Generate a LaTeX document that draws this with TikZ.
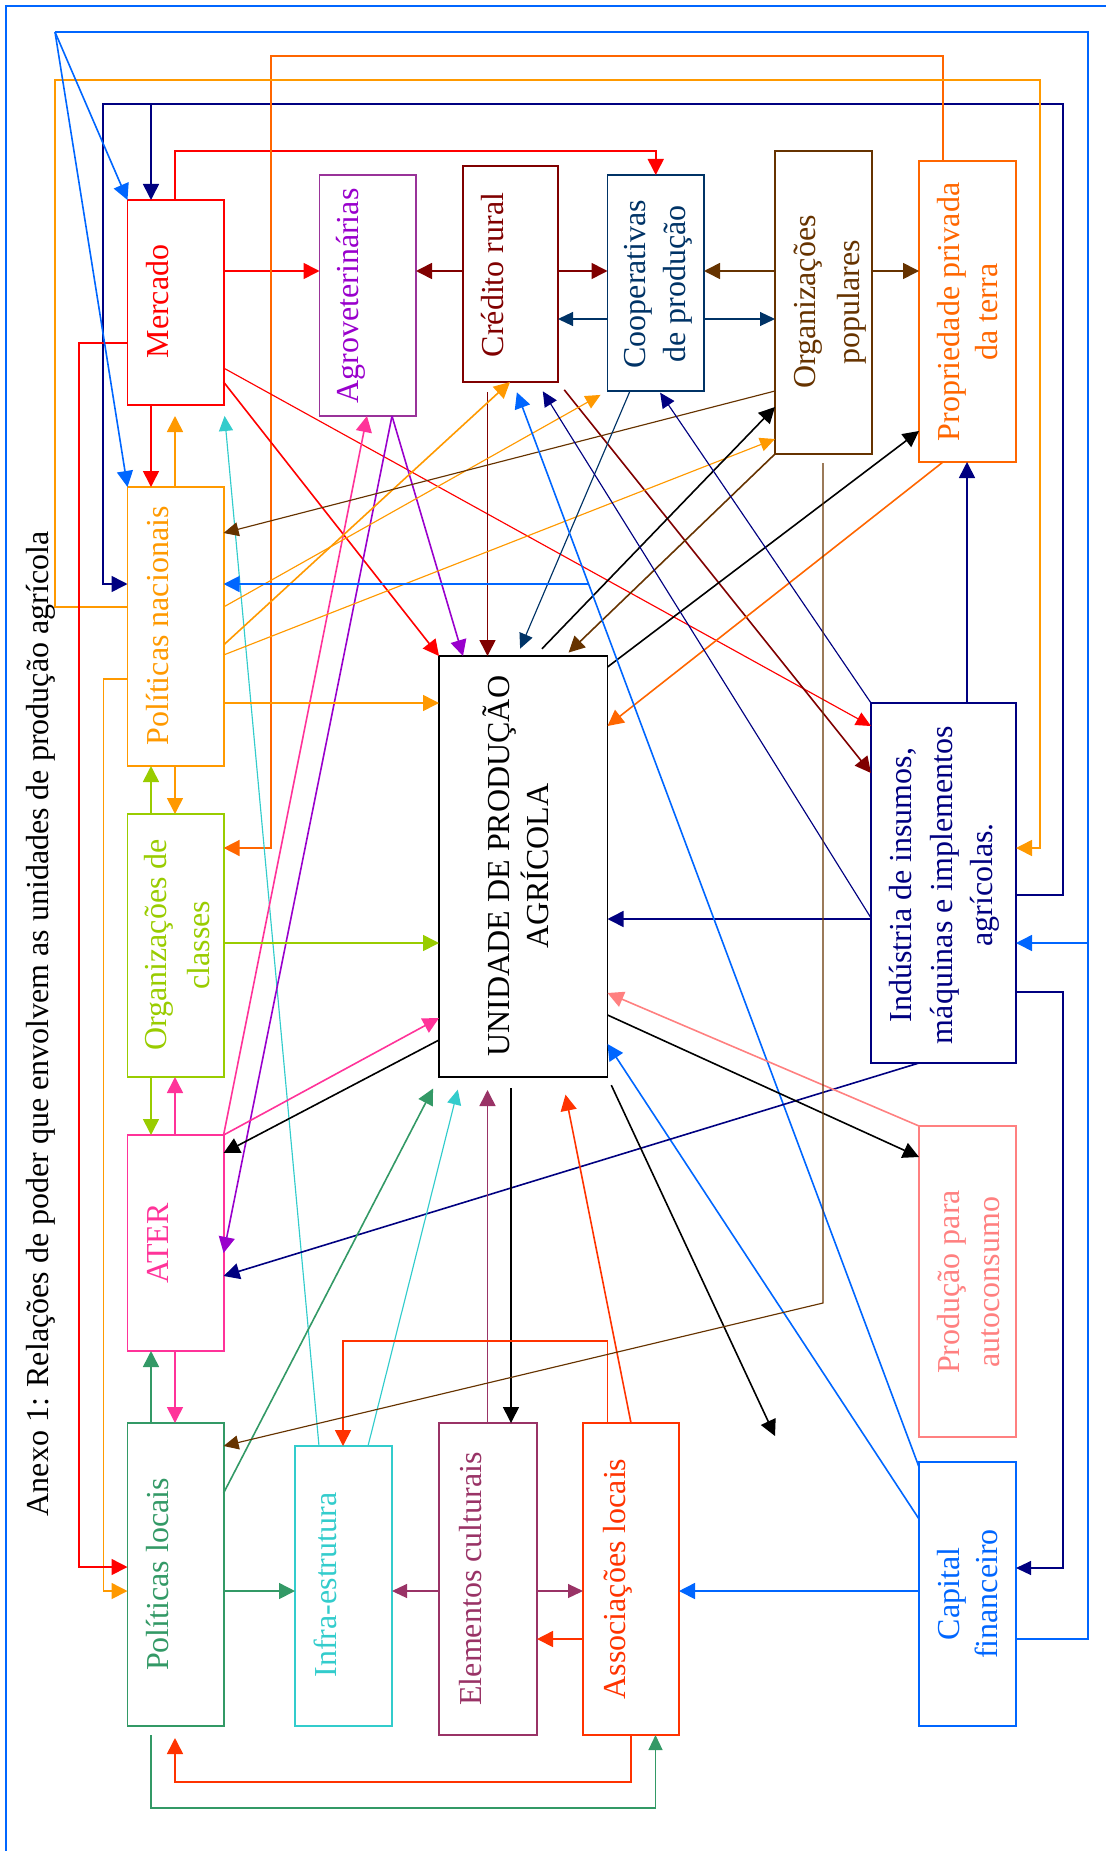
\documentclass[tikz,border=0pt]{standalone}
\usepackage{fontspec}
\setmainfont{Liberation Serif}
\usetikzlibrary{arrows.meta,calc}
\definecolor{cMerc}{HTML}{FF0000}
\definecolor{cAgro}{HTML}{9900CC}
\definecolor{cAgroB}{HTML}{993399}
\definecolor{cCred}{HTML}{800000}
\definecolor{cCoop}{HTML}{003366}
\definecolor{cOrgp}{HTML}{663300}
\definecolor{cProp}{HTML}{FF6600}
\definecolor{cInd}{HTML}{000080}
\definecolor{cPN}{HTML}{FF9900}
\definecolor{cOrgc}{HTML}{99CC00}
\definecolor{cAter}{HTML}{FF3399}
\definecolor{cPL}{HTML}{339966}
\definecolor{cInf}{HTML}{33CCCC}
\definecolor{cElem}{HTML}{993366}
\definecolor{cAssoc}{HTML}{FF3300}
\definecolor{cProd}{HTML}{FF8080}
\definecolor{cCap}{HTML}{0066FF}
\newcommand\mybox[6]{\node[boxst,draw=#2,minimum width={(#5)-(#3)},minimum height={(#6)-(#4)}] (#1) at ({((#3)+(#5))/2},{((#4)+(#6))/2}) {};}
\begin{document}
\begin{tikzpicture}[x=1pt,y=-1pt,
 boxst/.style={draw, line width=1.8pt, inner sep=0pt, outer sep=0pt, shape=rectangle},
 lbl/.style={rotate=90, anchor=base, inner sep=0pt, font=\fontsize{32}{38}\selectfont},
 arr/.style={-{Triangle[length=16pt,width=16pt]}, line width=1.6pt},
 tarr/.style={-{Triangle[length=15pt,width=14pt]}, line width=1.15pt},
 ln/.style={line width=1.6pt},
 tln/.style={line width=1.15pt}]
\useasboundingbox (0,0) rectangle (1106,1851);
\draw[cCap, line width=1.3pt] (6,1851) -- (6,6) -- (1106,6);
% boxes
\mybox{merc}{cMerc}{127.5}{200}{223.6}{405}
\mybox{agro}{cAgroB}{319.5}{175}{416}{416}
\mybox{cred}{cCred}{463}{166}{558}{382}
\mybox{coop}{cCoop}{607.5}{175}{704}{391}
\mybox{orgp}{cOrgp}{775}{151}{872}{454}
\mybox{prop}{cProp}{919}{161}{1016}{462}
\mybox{pn}{cPN}{127.5}{487}{223.6}{766}
\mybox{orgc}{cOrgc}{127.5}{814}{223.6}{1077}
\mybox{ater}{cAter}{127.5}{1135}{223.6}{1351}
\mybox{pl}{cPL}{127.5}{1423}{223.6}{1726}
\mybox{infra}{cInf}{295}{1446}{392}{1726}
\mybox{elem}{cElem}{439}{1423}{537}{1735}
\mybox{assoc}{cAssoc}{583}{1423}{679}{1735}
\mybox{upa}{black}{439}{656}{607.5}{1077}
\mybox{ind}{cInd}{871}{703}{1016}{1063}
\mybox{prod}{cProd}{919}{1126}{1016}{1437}
\mybox{cap}{cCap}{919}{1462}{1016}{1726}
% texts
\node[lbl] (title) at (48,1024) {Anexo 1: Relações de poder que envolvem as unidades de produção agrícola};
\node[lbl,text=cMerc] (merc-t) at (168,301.5) {Mercado};
\node[lbl,text=cAgro] (agro-t) at (358,296) {Agroveterinárias};
\node[lbl,text=cCred] (cred-t) at (503.5,275) {Crédito rural};
\node[lbl,text=cCoop] (coop-t1) at (645,284) {Cooperativas};
\node[lbl,text=cCoop] (coop-t2) at (685,284) {de produção};
\node[lbl,text=cOrgp] (orgp-t1) at (815,302) {Organizações};
\node[lbl,text=cOrgp] (orgp-t2) at (859,302) {populares};
\node[lbl,text=cProp] (prop-t1) at (959,312) {Propriedade privada};
\node[lbl,text=cProp] (prop-t2) at (997,312) {da terra};
\node[lbl,text=cInd] (ind-t1) at (911.5,885) {Indústria de insumos,};
\node[lbl,text=cInd] (ind-t2) at (952,885) {máquinas e implementos};
\node[lbl,text=cInd] (ind-t3) at (992,885) {agrícolas.};
\node[lbl,text=cPN] (pn-t) at (168,626) {Políticas nacionais};
\node[lbl,text=cOrgc] (orgc-t1) at (166.5,945) {Organizações de};
\node[lbl,text=cOrgc] (orgc-t2) at (209,945) {classes};
\node[lbl,text=cAter] (ater-t) at (168,1243.5) {ATER};
\node[lbl,text=cPL] (pl-t) at (168,1574.5) {Políticas locais};
\node[lbl,text=cInf] (infra-t) at (336,1585) {Infra-estrutura};
\node[lbl,text=cElem] (elem-t) at (481,1579) {Elementos culturais};
\node[lbl,text=cAssoc] (assoc-t) at (625,1579) {Associações locais};
\node[lbl,text=cProd] (prod-t1) at (959,1282) {Produção para};
\node[lbl,text=cProd] (prod-t2) at (999,1282) {autoconsumo};
\node[lbl,text=cCap] (cap-t1) at (959,1594) {Capital};
\node[lbl,text=cCap] (cap-t2) at (997,1594) {financeiro};
\node[lbl] (upa-t1) at (509,866) {UNIDADE DE PRODUÇÃO};
\node[lbl] (upa-t2) at (548,866) {AGRÍCOLA};
% top row horizontal links
\draw[arr,cMerc] (merc.east |- 0,271) -- (agro.west |- 0,271);
\draw[arr,cCred] (cred.west |- 0,271) -- (agro.east |- 0,271);
\draw[arr,cCred] (cred.east |- 0,271) -- (coop.west |- 0,271);
\draw[tarr,cCoop] (coop.west |- 0,319) -- (cred.east |- 0,319);
\draw[tarr,cCoop] (coop.east |- 0,319) -- (orgp.west |- 0,319);
\draw[arr,cOrgp] (orgp.west |- 0,271) -- (coop.east |- 0,271);
\draw[arr,cOrgp] (orgp.east |- 0,271) -- (prop.west |- 0,271);
% long routed paths
\draw[arr,cMerc] (merc.north -| 175,0) -- (175,151) -- (655.75,151) -- (coop.north);
\draw[arr,cInd] (ind.east |- 0,895) -- (1063,895) -- (1063,104) -- (103,104) -- (103,584) -- (pn.west |- 0,584);
\draw[arr,cInd] (151,104) -- (merc.north -| 151,0);
\draw[tarr,cInd] (ind.east |- 0,992) -- (1063,992) -- (1063,1568) -- (cap.east |- 0,1568);
\draw[arr,cProp] (prop.north -| 943,0) -- (943,56) -- (271,56) -- (271,848) -- (orgc.east |- 0,848);
\draw[arr,cPN] (pn.west |- 0,607) -- (55,607) -- (55,80) -- (1040,80) -- (1040,848) -- (ind.east |- 0,848);
\draw[arr,cPN] (pn.west |- 0,679) -- (103.6,679) -- (103.6,1591) -- (pl.west |- 0,1591);
\draw[arr,cMerc] (merc.west |- 0,343) -- (79,343) -- (79,1567) -- (pl.west |- 0,1567);
\coordinate (apex) at (55,32);
\draw[ln,cCap] (cap.east |- 0,1639) -- (1088,1639) -- (1088,32) -- (apex);
\draw[arr,cCap] (apex) -- (merc.north west);
\draw[arr,cCap] (apex) -- (pn.north west);
\draw[arr,cCap] (1088,943) -- (ind.east |- 0,943);
% left column vertical links
\draw[arr,cMerc] (merc.south -| 151,0) -- (pn.north -| 151,0);
\draw[arr,cPN,shorten >=11pt] (pn.north -| 175,0) -- (merc.south -| 175,0);
\draw[arr,cPN] (pn.south -| 175,0) -- (orgc.north -| 175,0);
\draw[arr,cOrgc] (orgc.north -| 151,0) -- (pn.south -| 151,0);
\draw[arr,cOrgc] (orgc.south -| 151,0) -- (ater.north -| 151,0);
\draw[arr,cAter] (ater.north -| 175,0) -- (orgc.south -| 175,0);
\draw[arr,cPL] (pl.north -| 151,0) -- (ater.south -| 151,0);
\draw[arr,cAter] (ater.south -| 175,0) -- (pl.north -| 175,0);
% diagonals from the top
\draw[tarr,cInf,shorten >=11pt] (infra.north -| 319,0) -- (merc.south east);
\draw[arr,cMerc] (merc.east |- 0,382) -- (upa.north west);
\draw[tarr,cMerc] (merc.east |- 0,368) -- (ind.west |- 0,726);
\draw[arr,cAgro] (agro.south -| 392,0) -- (upa.north -| 463,0);
\draw[arr,cAgro] (agro.south -| 392,0) -- (ater.east |- 0,1253);
\draw[arr,cAter] (ater.north east) -- (agro.south -| 367,0);
\draw[arr,cAter] (ater.north east) -- (upa.west |- 0,1018);
\draw[arr,cCred,shorten <=10pt] (cred.south -| 487.5,0) -- (upa.north -| 487.5,0);
\draw[arr,cCred,shorten <=10pt] (cred.south east) -- (ind.west |- 0,773);
\draw[arr,cPN] (pn.east |- 0,645) -- (cred.south -| 510,0);
\draw[tarr,cPN,shorten >=8pt] (pn.east |- 0,607) -- (coop.south west);
\draw[tarr,cPN] (pn.east |- 0,655) -- (orgp.west |- 0,439);
\draw[tarr,cOrgp] (orgp.west |- 0,391) -- (pn.east |- 0,533);
\draw[tarr,cCoop,shorten >=8pt] (coop.south -| 630,0) -- (upa.north -| 517,0);
\draw[arr,black,shorten <=10pt] (upa.north -| 535,0) -- (orgp.west |- 0,407);
\draw[arr,cOrgp,shorten >=5pt] (orgp.south west) -- (upa.north -| 565,0);
\draw[arr,black] (upa.east |- 0,667) -- (prop.west |- 0,431);
\draw[arr,cProp] (prop.south -| 943,0) -- (upa.east |- 0,726);
\draw[tarr,cInd,shorten >=2pt] (ind.north west) -- (coop.south -| 659,0);
\draw[tarr,cInd,shorten >=11pt] (ind.west |- 0,918) -- (cred.south -| 537,0);
\draw[arr,cInd] (ind.west |- 0,919) -- (upa.east |- 0,919);
\draw[arr,cInd] (ind.north -| 967,0) -- (prop.south -| 967,0);
% capital financeiro
\coordinate (cq1) at (cap.west |- 0,1467);
\coordinate (cq2) at (cred.south -| 513,0);
\coordinate (bj) at ($(cq1)!0.8138!(cq2)$);
\draw[arr,cCap,shorten >=11pt] (cq1) -- (cq2);
\draw[arr,cCap] (bj) -- (pn.east |- bj);
\draw[arr,cCap] (cap.west |- 0,1519) -- (upa.east |- 0,1044);
\draw[arr,cCap] (cap.west |- 0,1591) -- (assoc.east |- 0,1591);
% industry to ATER
\draw[arr,cInd] (ind.south -| 919,0) -- (ater.east |- 0,1276);
% production for self-consumption
\draw[arr,cProd] (prod.north west) -- (upa.east |- 0,993);
\draw[arr,black] (upa.east |- 0,1015) -- (prod.west |- 0,1157);
\coordinate (freeend) at (775,1436);
\draw[arr,black,shorten <=9pt] (upa.south east) -- (freeend);
\draw[arr,black] (upa.west |- 0,1040) -- (ater.east |- 0,1153);
% bottom links to UPA
\draw[arr,black,shorten <=11pt] (upa.south -| 511,0) -- (elem.north -| 511,0);
\draw[arr,cElem,shorten >=13pt] (elem.north -| 487.5,0) -- (upa.south -| 487.5,0);
\draw[tarr,cInf,shorten >=13pt] (infra.north -| 368,0) -- (upa.south -| 461,0);
\draw[arr,cPL,shorten >=13pt] (pl.east |- 0,1493) -- (upa.south west);
\draw[arr,cAssoc,shorten >=18pt] (assoc.north -| 631,0) -- (upa.south -| 562,0);
\draw[arr,cAssoc] (assoc.north -| 607.5,0) -- (607.5,1341) -- (343,1341) -- (infra.north -| 343,0);
\draw[tarr,cOrgp,shorten <=9pt] (orgp.south -| 823,0) -- (823,1303) -- (pl.east |- 0,1446);
\draw[arr,cOrgc] (orgc.east |- 0,943) -- (upa.west |- 0,943);
\draw[arr,cPN] (pn.east |- 0,703) -- (upa.west |- 0,703);
% bottom row
\draw[arr,cPL] (pl.east |- 0,1591) -- (infra.west |- 0,1591);
\draw[tarr,cElem] (elem.west |- 0,1591) -- (infra.east |- 0,1591);
\draw[tarr,cElem] (elem.east |- 0,1591) -- (assoc.west |- 0,1591);
\draw[arr,cAssoc] (assoc.west |- 0,1639) -- (elem.east |- 0,1639);
\draw[arr,cAssoc,shorten >=12pt] (assoc.south -| 631,0) -- (631,1782) -- (175,1782) -- (pl.south -| 175,0);
\draw[tarr,cPL,shorten <=9pt] (pl.south -| 151,0) -- (151,1808) -- (655.5,1808) -- (assoc.south -| 655.5,0);
\end{tikzpicture}
\end{document}
